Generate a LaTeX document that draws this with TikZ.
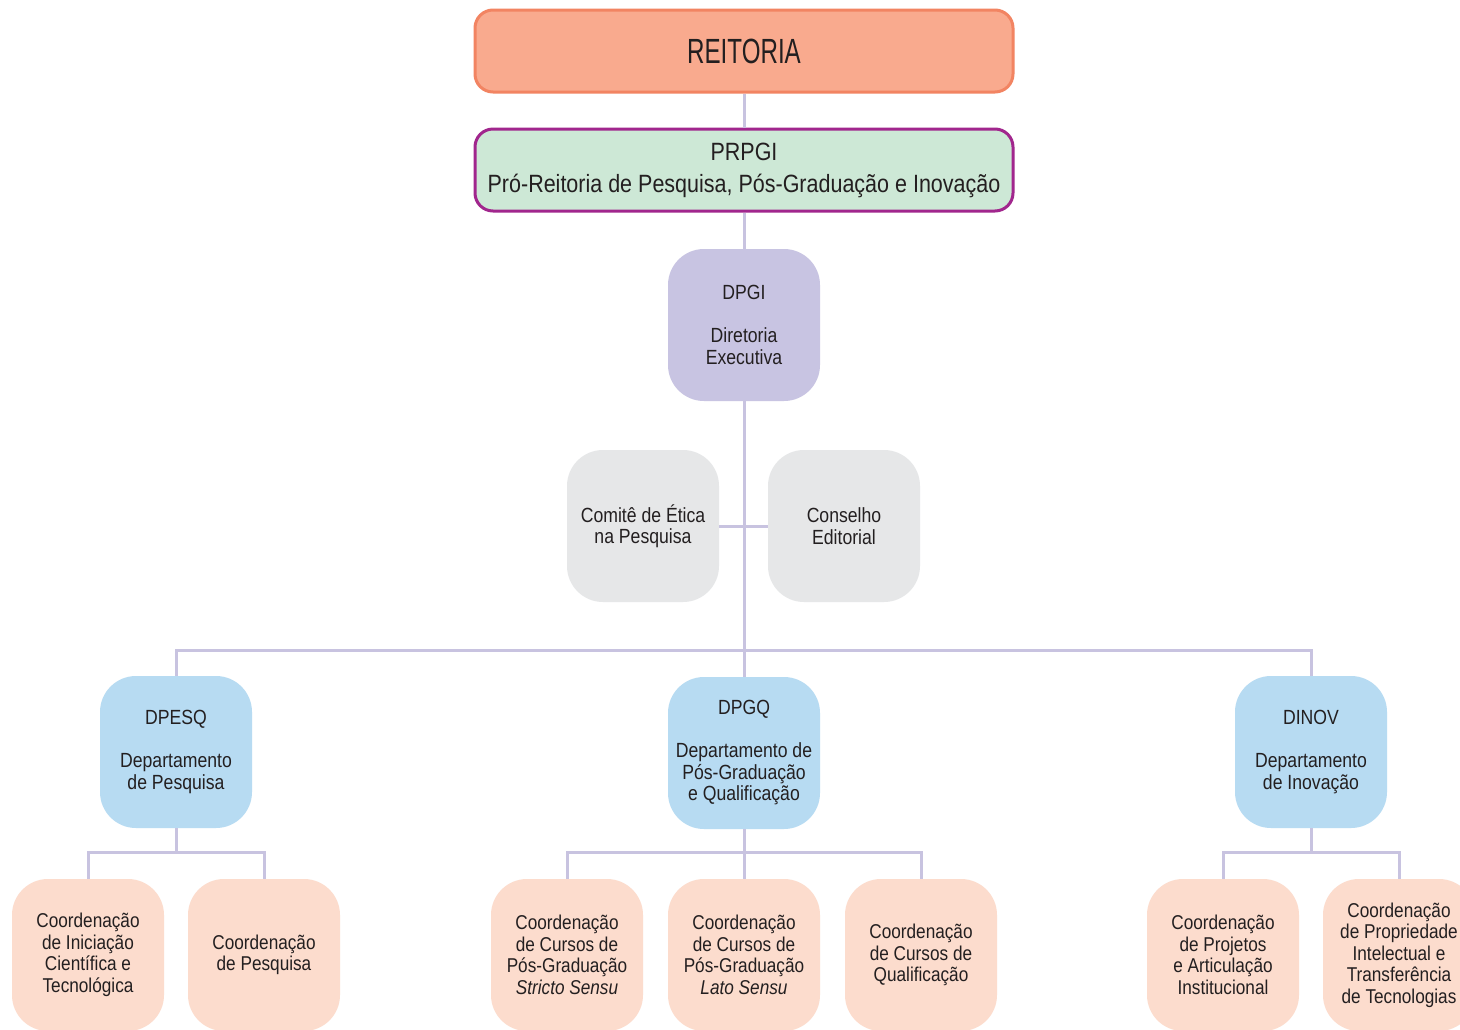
\documentclass[tikz,border=0pt]{standalone}
\usepackage{fontspec}
\setmainfont{Liberation Sans}[FakeStretch=0.86]
\newfontfamily\reitfont{Liberation Sans}[FakeStretch=0.69]

\definecolor{linkcol}{HTML}{C8C3E0}
\definecolor{txtcol}{HTML}{231F20}
\definecolor{reitfill}{HTML}{F9AA8E}
\definecolor{reitdraw}{HTML}{F28462}
\definecolor{prpgifill}{HTML}{CDE8D6}
\definecolor{prpgidraw}{HTML}{A1268D}
\definecolor{dirfill}{HTML}{C8C4E2}
\definecolor{consfill}{HTML}{E6E7E8}
\definecolor{deptfill}{HTML}{B7DBF2}
\definecolor{coordfill}{HTML}{FCDCCD}

\tikzset{
  topbox/.style={rounded corners=18pt, line width=3pt, minimum width=538pt,
    minimum height=82pt, inner sep=0pt, align=center, text=txtcol},
  sqbox/.style={rounded corners=36pt, minimum width=152pt, minimum height=152pt,
    inner sep=0pt, align=center, text=txtcol,
    font=\fontsize{20.5}{21.5}\selectfont},
  dirbox/.style={sqbox, fill=dirfill},
  consbox/.style={sqbox, fill=consfill},
  deptbox/.style={sqbox, fill=deptfill},
  coordbox/.style={sqbox, fill=coordfill, font=\fontsize{20}{21.5}\selectfont},
  link/.style={draw=linkcol, line width=3pt}
}

\begin{document}
\begin{tikzpicture}[x=1pt, y=-1pt]
\fill[white] (0,0) rectangle (1460,1029);
\useasboundingbox (0,0) rectangle (1460,1029);
% Top boxes
    \node[topbox, fill=reitfill, draw=reitdraw, font=\reitfont\fontsize{35}{38}\selectfont]
        (reit) at (744,51) {REITORIA};
    \node[topbox, fill=prpgifill, draw=prpgidraw, font=\fontsize{25}{32}\selectfont]
        (prpgi) at (744,170) {PRPGI\\Pró-Reitoria de Pesquisa, Pós-Graduação e Inovação};
% Directorate and councils
    \node[dirbox] (dpgi) at (744,325) {DPGI\\[21.5pt]Diretoria\\Executiva};
    \node[consbox] (comite) at (643,526) {Comitê de Ética\\na Pesquisa};
    \node[consbox] (conselho) at (844,526) {Conselho\\Editorial};
% Departments
    \node[deptbox] (dpesq) at (176,752) {DPESQ\\[21.5pt]Departamento\\de Pesquisa};
    \node[deptbox] (dpgq) at (744,753) {DPGQ\\[21.5pt]Departamento de\\Pós-Graduação\\e Qualificação};
    \node[deptbox] (dinov) at (1311,752) {DINOV\\[21.5pt]Departamento\\de Inovação};
% Coordinations
    \node[coordbox] (cic) at (88,955) {Coordenação\\de Iniciação\\Científica e\\Tecnológica};
    \node[coordbox] (cpesq) at (264,955) {Coordenação\\de Pesquisa};
    \node[coordbox] (cstricto) at (567,955) {Coordenação\\de Cursos de\\Pós-Graduação\\\textit{Stricto Sensu}};
    \node[coordbox] (clato) at (744,955) {Coordenação\\de Cursos de\\Pós-Graduação\\\textit{Lato Sensu}};
    \node[coordbox] (cqual) at (921,955) {Coordenação\\de Cursos de\\Qualificação};
    \node[coordbox] (cproj) at (1223,955) {Coordenação\\de Projetos\\e Articulação\\Institucional};
    \node[coordbox] (cprop) at (1399,955) {Coordenação\\de Propriedade\\Intelectual e\\Transferência\\de Tecnologias};
% Connectors
    \draw[link] (reit) -- (prpgi);
    \draw[link] (prpgi) -- (dpgi);
    \draw[link] (dpgi) -- (dpgq);
    \draw[link] (comite) -- (conselho);
    \draw[link] (dpesq.north) -- ++(0,-25) -| (dinov.north);
    \draw[link] (dpesq.south) -- ++(0,25);
    \draw[link] (cic.north) -- ++(0,-26) -| (cpesq.north);
    \draw[link] (dpgq) -- (clato);
    \draw[link] (cstricto.north) -- ++(0,-26) -| (cqual.north);
    \draw[link] (dinov.south) -- ++(0,25);
    \draw[link] (cproj.north) -- ++(0,-26) -| (cprop.north);
\end{tikzpicture}
\end{document}
